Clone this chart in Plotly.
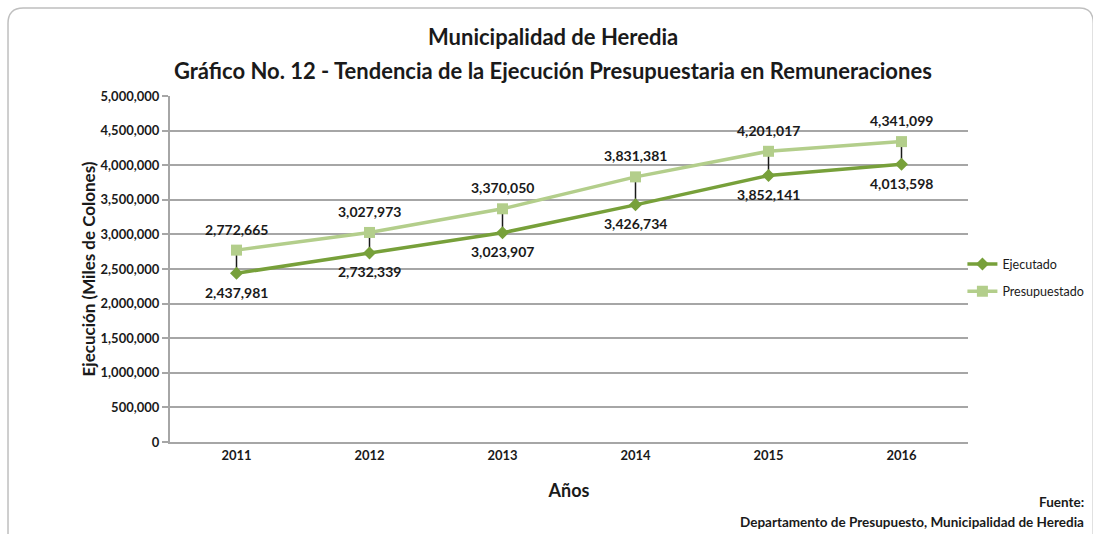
import plotly.graph_objects as go

years = ["2011", "2012", "2013", "2014", "2015", "2016"]
ejecutado = [2437981, 2732339, 3023907, 3426734, 3852141, 4013598]
presupuestado = [2772665, 3027973, 3370050, 3831381, 4201017, 4341099]
y_ticks = [0, 500000, 1000000, 1500000, 2000000, 2500000, 3000000, 3500000, 4000000, 4500000, 5000000]

FONT = "Lato, Roboto, Liberation Sans, sans-serif"
C_EJ = "#77A03A"
C_PR = "#B3CE8B"
TXT = "#1a1a1a"

fig = go.Figure()

# drop lines (high-low lines) between the two series
dx, dy = [], []
for yr, e, p in zip(years, ejecutado, presupuestado):
    dx += [yr, yr, None]
    dy += [e, p, None]
fig.add_trace(go.Scatter(x=dx, y=dy, mode="lines", line=dict(color="#1a1a1a", width=1.5),
                         showlegend=False, hoverinfo="skip"))

fig.add_trace(go.Scatter(x=years, y=ejecutado, name="Ejecutado", mode="lines+markers",
                         legendgroup="ej",
                         line=dict(color=C_EJ, width=3.5),
                         marker=dict(symbol="diamond", size=10, color=C_EJ)))
fig.add_trace(go.Scatter(x=years, y=presupuestado, name="Presupuestado", mode="lines+markers",
                         legendgroup="pr",
                         line=dict(color=C_PR, width=3.5),
                         marker=dict(symbol="square", size=11, color=C_PR)))

annotations = []
for i, (e, p) in enumerate(zip(ejecutado, presupuestado)):
    annotations.append(dict(x=i, y=p, xref="x", yref="y", text=f"<b>{p:,}</b>", showarrow=False,
                            yshift=21, font=dict(family=FONT, size=14, color=TXT)))
    annotations.append(dict(x=i, y=e, xref="x", yref="y", text=f"<b>{e:,}</b>", showarrow=False,
                            yshift=-19, font=dict(family=FONT, size=14, color=TXT)))

annotations += [
    dict(xref="paper", yref="paper", x=0.48, y=1.172, yanchor="middle",
         text="<b>Municipalidad de Heredia</b>", showarrow=False,
         font=dict(family=FONT, size=22, color=TXT)),
    dict(xref="paper", yref="paper", x=0.48, y=1.075, yanchor="middle",
         text="<b>Gráfico No. 12 - Tendencia de la Ejecución Presupuestaria en Remuneraciones</b>",
         showarrow=False, font=dict(family=FONT, size=22, color=TXT)),
    dict(xref="paper", yref="paper", x=1.148, y=-0.172, xanchor="right", yanchor="middle",
         text="<b>Fuente:</b>", showarrow=False, font=dict(family=FONT, size=13.5, color=TXT)),
    dict(xref="paper", yref="paper", x=1.148, y=-0.232, xanchor="right", yanchor="middle",
         text="<b>Departamento de Presupuesto, Municipalidad de Heredia</b>", showarrow=False,
         font=dict(family=FONT, size=13.5, color=TXT)),
]

fig.update_layout(
    width=1093, height=534,
    margin=dict(l=170, r=125, t=96, b=92, autoexpand=False),
    paper_bgcolor="white", plot_bgcolor="white",
    font=dict(family=FONT, color=TXT),
    showlegend=True,
    legend=dict(x=0.993, y=0.557, xanchor="left", yanchor="top", bgcolor="rgba(0,0,0,0)",
                font=dict(family=FONT, size=12.5, color=TXT), tracegroupgap=8,
                itemwidth=30),
    annotations=annotations,
    xaxis=dict(type="category", showgrid=False, ticks="", showline=True, linecolor="#A6A6A6",
               linewidth=2, tickfont=dict(family=FONT, size=13, weight="bold"),
               title=dict(text="<b>Años</b>", font=dict(family=FONT, size=18), standoff=23),
               range=[-0.5, 5.5]),
    yaxis=dict(range=[0, 5000000], tickvals=y_ticks, ticktext=[f"{v:,}" for v in y_ticks],
               showgrid=True, gridcolor="#A6A6A6", gridwidth=1.5, zeroline=False,
               showline=True, linecolor="#A6A6A6", linewidth=2, ticks="outside",
               ticklen=6, tickcolor="#A6A6A6", tickwidth=1.5,
               tickfont=dict(family=FONT, size=13, weight="bold"),
               title=dict(text="<b>Ejecución (Miles de Colones)</b>",
                          font=dict(family=FONT, size=17), standoff=1)),
    shapes=[dict(type="path", xref="paper", yref="paper", layer="below",
                 path="M -0.203,-0.3 L -0.203,1.21 Q -0.203,1.254 -0.184,1.254 L 1.14,1.254 "
                      "Q 1.157,1.254 1.157,1.21 L 1.157,-0.3",
                 line=dict(color="#BFBFBF", width=1.5))],
)

fig.write_html("out.html", config={"displayModeBar": False},
               post_script="document.body.style.margin='0';")
